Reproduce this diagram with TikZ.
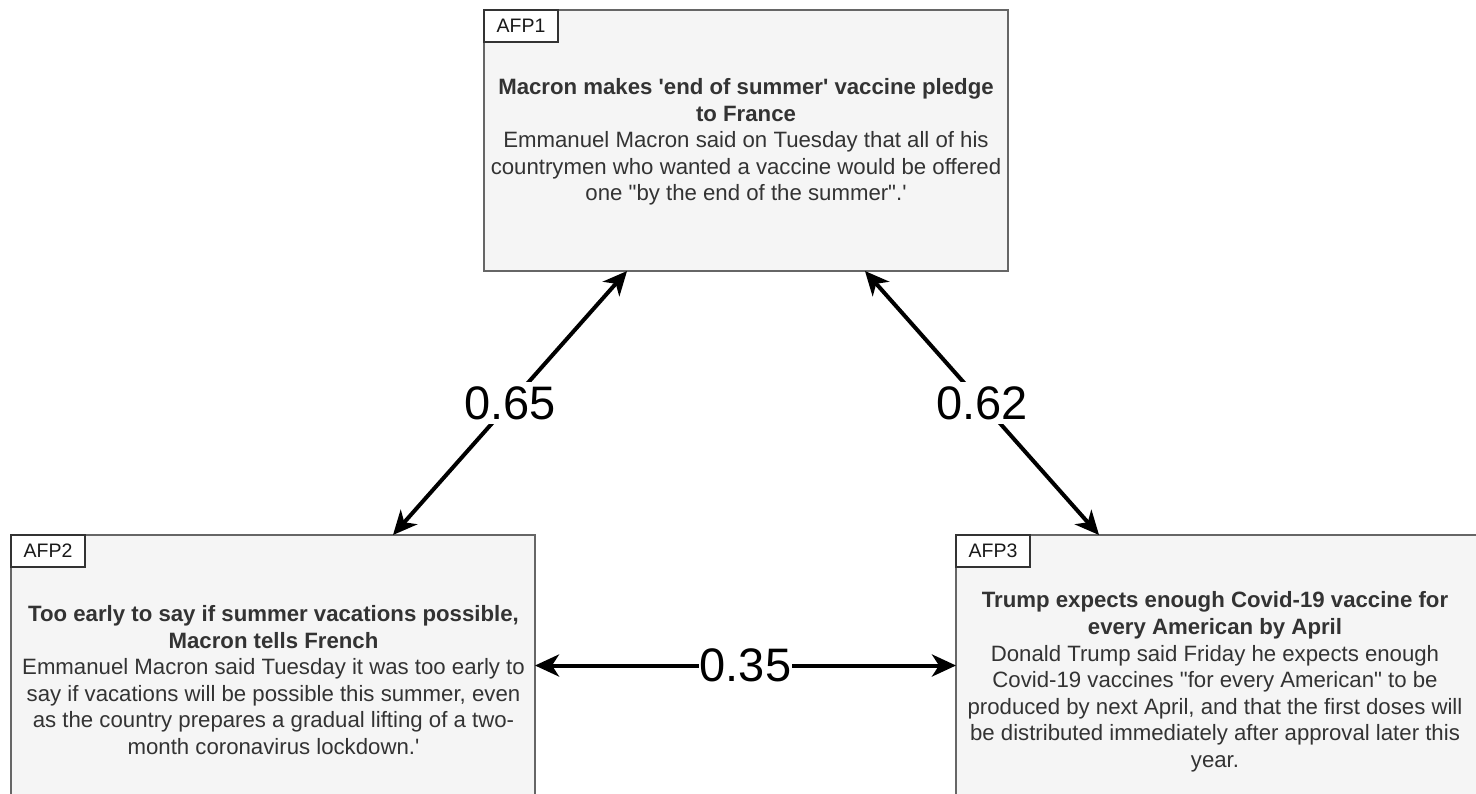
\documentclass[tikz,border=0pt]{standalone}
\usepackage{fontspec}
\setmainfont{Liberation Sans}
\usetikzlibrary{arrows.meta,calc}
\definecolor{cardfill}{HTML}{F5F5F5}
\definecolor{cardline}{HTML}{666666}
\definecolor{ink}{HTML}{333333}

\tikzset{
  card/.style={draw=cardline, fill=cardfill, line width=1.3pt,
    minimum width=524pt, minimum height=261pt, anchor=north west,
    outer sep=0pt, inner sep=0pt},
  tag/.style={draw=ink, fill=white, line width=1.3pt,
    minimum width=74pt, minimum height=32pt, anchor=north west,
    outer sep=0pt, inner sep=0pt, text=black!90,
    font=\fontsize{19.5}{22}\selectfont},
  story/.style={align=center, text=ink, inner sep=0pt,
    font=\fontsize{22.2}{26.6}\selectfont},
  link/.style={line width=4pt,
    {Stealth[length=24pt,width=22pt,inset=7pt]}-{Stealth[length=24pt,width=22pt,inset=7pt]}},
  score/.style={fill=white, inner sep=4pt, text=black,
    font=\fontsize{47}{54}\selectfont}
}

\begin{document}
\begin{tikzpicture}[x=1pt, y=-1pt]
  \useasboundingbox (0,0) rectangle (1476,793);
  \clip (0,0) rectangle (1476,793);

  % article cards
  \node[card] (afp1) at (484,10) {};
  \node[card] (afp2) at (11,535) {};
  \node[card] (afp3) at (956,535) {};

  % source tags in the top-left corners
  \node[tag] (tag1) at (afp1.north west) {AFP1};
  \node[tag] (tag2) at (afp2.north west) {AFP2};
  \node[tag] (tag3) at (afp3.north west) {AFP3};

  % headlines and summaries
  \node[story] (text1) at (746,142) {%
    \textbf{Macron makes \textquotesingle end of summer\textquotesingle{} vaccine pledge}\\
    \textbf{to France}\\
    Emmanuel Macron said on Tuesday that all of his\\
    countrymen who wanted a vaccine would be offered\\
    one \textquotedbl by the end of the summer\textquotedbl.\textquotesingle};
  \node[story] (text2) at (273.5,680) {%
    \textbf{Too early to say if summer vacations possible,}\\
    \textbf{Macron tells French}\\
    Emmanuel Macron said Tuesday it was too early to\\
    say if vacations will be possible this summer, even\\
    as the country prepares a gradual lifting of a two-\\
    month coronavirus lockdown.\textquotesingle};
  \node[story] (text3) at (1215,682) {%
    \textbf{Trump expects enough Covid-19 vaccine for}\\
    \textbf{every American by April}\\
    Donald Trump said Friday he expects enough\\
    Covid-19 vaccines \textquotedbl for every American\textquotedbl{} to be\\
    produced by next April, and that the first doses will\\
    be distributed immediately after approval later this\\
    year.};

  % similarity links
  \coordinate (p1) at ($(afp1.south west)!0.273!(afp1.south east)$);
  \coordinate (p2) at ($(afp1.south west)!0.727!(afp1.south east)$);
  \coordinate (q2) at ($(afp2.north west)!0.729!(afp2.north east)$);
  \coordinate (q3) at ($(afp3.north west)!0.273!(afp3.north east)$);

  \draw[link] (q2) -- node[score] (s12) {0.65} (p1);
  \draw[link] (p2) -- node[score] (s13) {0.62} (q3);
  \draw[link] (afp2.east) -- node[score, inner xsep=1pt] (s23) {0.35} (afp3.west);
\end{tikzpicture}
\end{document}
